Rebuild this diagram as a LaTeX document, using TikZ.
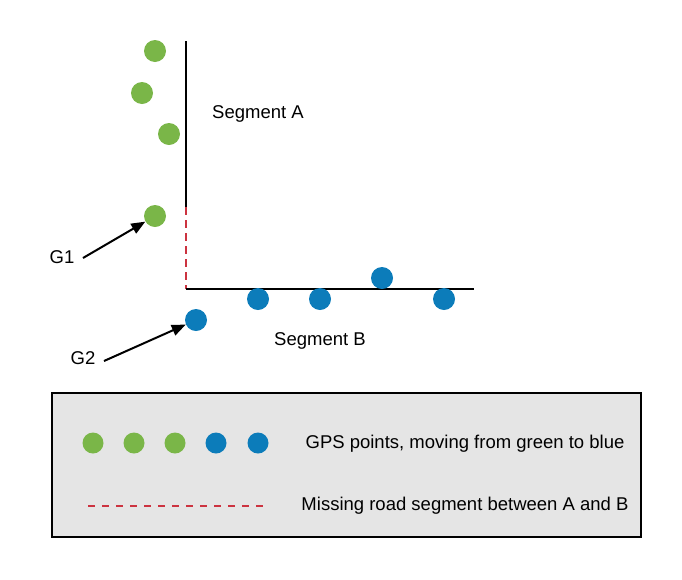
\documentclass[tikz,border=0pt]{standalone}
\usepackage{fontspec}
\setmainfont{Liberation Sans}
\usetikzlibrary{arrows.meta}
\definecolor{gpsgreen}{HTML}{7AB648}
\definecolor{gpsblue}{HTML}{0C7CBA}
\definecolor{missred}{HTML}{CC3340}
\definecolor{legendbg}{HTML}{E5E5E5}
\tikzset{
  gdot/.style={circle,fill=gpsgreen,minimum size=22pt,inner sep=0pt},
  bdot/.style={circle,fill=gpsblue,minimum size=22pt,inner sep=0pt},
  lgdot/.style={circle,fill=gpsgreen,minimum size=21pt,inner sep=0pt},
  lbdot/.style={circle,fill=gpsblue,minimum size=21pt,inner sep=0pt},
  road/.style={line width=2pt,black},
  missing/.style={line width=2pt,missred,dash pattern=on 8pt off 5pt},
  lbl/.style={font=\fontsize{18.5}{22}\selectfont,inner sep=0pt},
  ptr/.style={line width=2pt,-{Triangle[length=14pt,width=11pt]}},
}
\begin{document}
\begin{tikzpicture}[x=1pt,y=-1pt]
\useasboundingbox (0,0) rectangle (682,579);
% roads
\coordinate (atop) at (186,41);
\coordinate (aend) at (186,207);
\coordinate (corner) at (186,289);
\coordinate (bend) at (474,289);
\draw[road] (atop) -- (aend);
\draw[missing] (aend) -- (corner);
\draw[road] (corner) -- (bend);
% green points
\node[gdot] (g1a) at (155,51) {};
\node[gdot] (g1b) at (142,93) {};
\node[gdot] (g1c) at (169,134) {};
\node[gdot] (g1) at (155,216) {};
% blue points
\node[bdot] (g2) at (196,320) {};
\node[bdot] (b1) at (258,299) {};
\node[bdot] (b2) at (320,299) {};
\node[bdot] (b3) at (382,278) {};
\node[bdot] (b4) at (444,299) {};
% labels
\node[lbl] (sega) at (258,114) {Segment A};
\node[lbl] (segb) at (320,341) {Segment B};
\node[lbl] (lg1) at (62,257) {G1};
\node[lbl] (lg2) at (83,358) {G2};
\coordinate (lg1s) at (83,258);
\coordinate (lg2s) at (104,361);
\draw[ptr] (lg1s) -- (g1);
\draw[ptr] (lg2s) -- (g2);
% legend
\node[draw=black,line width=2pt,fill=legendbg,minimum width=589pt,minimum height=144pt,inner sep=0pt] (legend) at (346.5,465) {};
\node[lgdot] (l1) at (93,443) {};
\node[lgdot] (l2) at (134,443) {};
\node[lgdot] (l3) at (175,443) {};
\node[lbdot] (l4) at (216,443) {};
\node[lbdot] (l5) at (258,443) {};
\coordinate (ldA) at (88,506);
\coordinate (ldB) at (266,506);
\draw[missing,line width=1.5pt,dash pattern=on 7pt off 7pt] (ldA) -- (ldB);
\node[lbl] (t1) at (465,444) {GPS points, moving from green to blue};
\node[lbl] (t2) at (465,506) {Missing road segment between A and B};
\end{tikzpicture}
\end{document}
